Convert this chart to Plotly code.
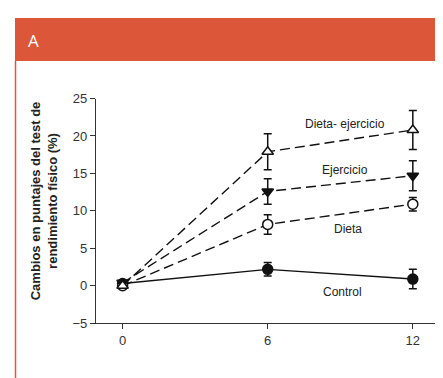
import plotly.graph_objects as go

W, H = 443, 378
OFF = 8  # page body margin offset

months = [0, 6, 12]
x_ticks = [0, 6, 12]
y_ticks = [-5, 0, 5, 10, 15, 20, 25]

control = [0.3, 2.2, 0.9]
control_err = [0.0, 0.9, 1.3]
dieta = [0.0, 8.2, 10.9]
dieta_err = [0.0, 1.3, 0.9]
ejercicio = [0.4, 12.6, 14.7]
ejercicio_err = [0.0, 1.7, 2.0]
dieta_ej = [0.0, 17.9, 20.8]
dieta_ej_err = [0.0, 2.4, 2.6]

labels = ["Dieta- ejercicio", "Ejercicio", "Dieta", "Control"]
label_x = [9.2, 9.2, 9.3, 9.1]
label_y = [21.6, 15.5, 7.6, -0.8]

ORANGE = "#DC5639"

def px_x(p):
    return (p - OFF) / W

def px_y(q):
    return 1 - (q - OFF) / H

fig = go.Figure()

def add_series(y, err, symbol, fill, dash):
    fig.add_trace(go.Scatter(
        x=months, y=y, mode="lines+markers",
        line=dict(color="#111111", width=1.4, dash=dash),
        marker=dict(symbol=symbol, size=10, color=fill,
                    line=dict(color="#111111", width=1.5)),
        error_y=dict(type="data", array=err, visible=True,
                     color="#111111", thickness=1.5, width=4),
        showlegend=False, cliponaxis=False,
    ))

add_series(control, control_err, "circle", "#111111", "solid")
add_series(dieta, dieta_err, "circle", "white", "10px,5px")
add_series(ejercicio, ejercicio_err, "triangle-down", "#111111", "10px,5px")
add_series(dieta_ej, dieta_ej_err, "triangle-up", "white", "10px,5px")

for t, lx, ly in zip(labels, label_x, label_y):
    fig.add_annotation(x=lx, y=ly, text=t, showarrow=False,
                       font=dict(family="Liberation Sans, Arial", size=12, color="#222222"),
                       xanchor="center", yanchor="middle")

# header bar
fig.add_shape(type="rect", xref="paper", yref="paper",
              x0=px_x(15), x1=px_x(460), y0=px_y(56), y1=px_y(11),
              fillcolor=ORANGE, line=dict(width=0), layer="below")
fig.add_shape(type="line", xref="paper", yref="paper",
              x0=px_x(15.5), x1=px_x(15.5), y0=px_y(56), y1=px_y(390),
              line=dict(color=ORANGE, width=1.5))
fig.add_annotation(xref="paper", yref="paper", x=px_x(26), y=px_y(35),
                   text="A", showarrow=False, xanchor="left", yanchor="middle",
                   font=dict(family="Open Sans", size=17, color="white"))

# y title
fig.add_annotation(xref="paper", yref="paper", x=px_x(44), y=px_y(202),
                   text="<b>Cambios en puntajes del test de<br>rendimiento físico (%)</b>",
                   showarrow=False, textangle=-90, xanchor="center", yanchor="middle",
                   font=dict(family="Liberation Sans, Arial", size=13, color="#222222"))

fig.update_layout(
    width=W, height=H,
    margin=dict(l=0, r=0, t=0, b=0),
    paper_bgcolor="white", plot_bgcolor="white",
    xaxis=dict(domain=[px_x(96), px_x(437)], range=[-1.1, 13.0],
               tickvals=x_ticks, ticks="outside", ticklen=5, tickwidth=1.2,
               tickcolor="#333", showline=True, linecolor="#333", linewidth=1.2,
               showgrid=False, zeroline=False,
               tickfont=dict(family="Liberation Sans, Arial", size=13, color="#333")),
    yaxis=dict(domain=[px_y(329), px_y(95)], range=[-5, 25],
               tickvals=y_ticks, ticks="outside", ticklen=5, tickwidth=1.2,
               tickcolor="#333", showline=True, linecolor="#333", linewidth=1.2,
               showgrid=False, zeroline=False,
               tickfont=dict(family="Liberation Sans, Arial", size=13, color="#333")),
)

fig.write_html("out.html")
